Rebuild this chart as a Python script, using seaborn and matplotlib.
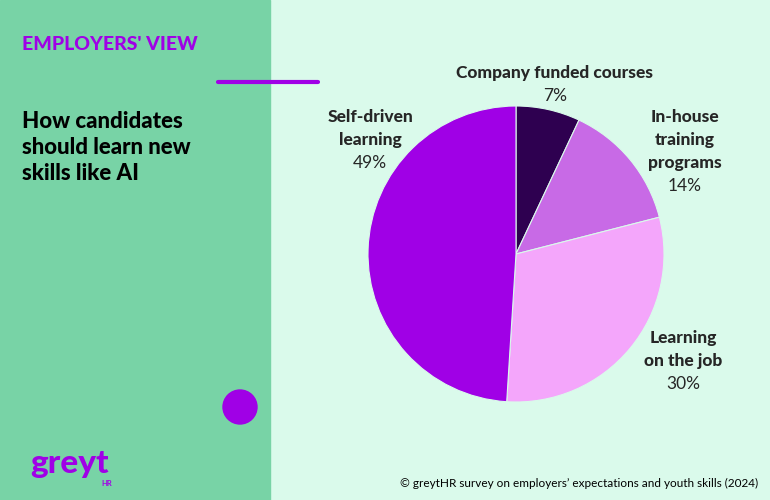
import matplotlib
matplotlib.use("Agg")
import matplotlib.pyplot as plt
import seaborn as sns
from matplotlib.patches import Rectangle, Ellipse

categories = ["Company funded courses", "In-house\ntraining\nprograms", "Learning\non the job", "Self-driven\nlearning"]
values = [7, 14, 30, 49]
colors = ["#2e0050", "#c86ae6", "#f4a6fb", "#a000e6"]

sns.set_theme(style="white")
plt.rcParams["font.family"] = "Lato"
W, H = 770, 500
fig = plt.figure(figsize=(W/100, H/100), dpi=100)
fig.patch.set_facecolor("#dafaeb")
fig.add_artist(Rectangle((0, 0), 270/W, 1, transform=fig.transFigure, color="#78d3a6", zorder=0))
fig.add_artist(plt.Line2D([218/W, 318/W], [1-82/H, 1-82/H], color="#a000e6", lw=3, transform=fig.transFigure))
fig.add_artist(Ellipse((240/W, 1-407/H), 34/W, 34/H, transform=fig.transFigure, color="#a000e6"))

fig.text(22/W, 1-45/H, "EMPLOYERS' VIEW", color="#a000e6", fontsize=14, fontweight="heavy", va="center")
for i, line in enumerate(["How candidates", "should learn new", "skills like AI"]):
    fig.text(22/W, 1-(122 + i*26)/H, line, color="black", fontsize=16, fontweight="heavy", va="center")
fig.text(30/W, 1-463/H, "greyt", color="#a000e6", fontsize=24, fontweight="heavy", va="center")
fig.text(101/W, 1-484/H, "HR", color="#a000e6", fontsize=5.5, fontweight="bold", va="center")
fig.text(758/W, 1-483/H, "© greytHR survey on employers’ expectations and youth skills (2024)",
         fontsize=8.5, ha="right", va="center", color="black")

R = 148
ax = fig.add_axes([(516-R)/W, 1-(254+R)/H, 2*R/W, 2*R/H])
ax.pie(values, colors=colors, startangle=90, counterclock=False,
       wedgeprops=dict(linewidth=0.8, edgecolor="#dafaeb"))
ax.set_xlim(-1, 1); ax.set_ylim(-1, 1)
ax.set_aspect("equal")
ax.axis("off")

label_tops = [(555, 73), (685, 117), (683, 338), (370, 117)]
for (x, y), c, v in zip(label_tops, categories, values):
    lines = c.split("\n")
    for i, line in enumerate(lines):
        fig.text(x/W, 1-(y + i*23)/H, line, fontsize=12.5, fontweight="heavy", ha="center", va="center")
    fig.text(x/W, 1-(y + len(lines)*23)/H, f"{v}%", fontsize=12.5, ha="center", va="center")

fig.savefig("out.png", dpi=100, facecolor=fig.get_facecolor())
